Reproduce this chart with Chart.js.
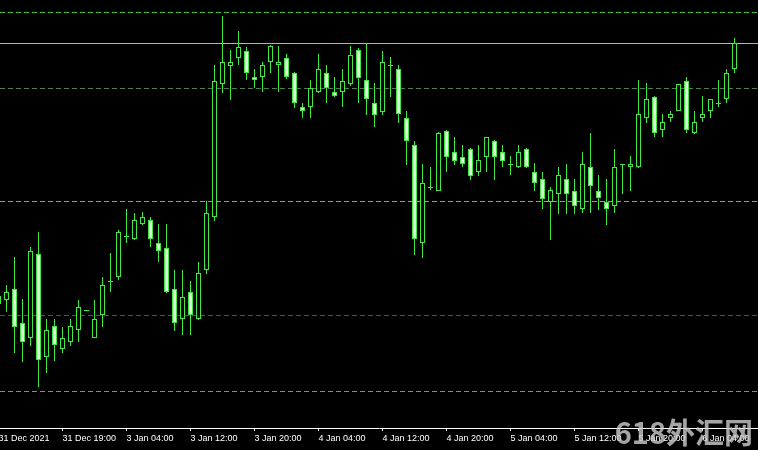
<!DOCTYPE html>
<html>
<head>
<meta charset="utf-8">
<script src="https://cdn.jsdelivr.net/npm/chart.js@4/dist/chart.umd.min.js"></script>
<style>
html,body{margin:0;padding:0;background:#000;overflow:hidden;}
canvas{display:block;}
</style>
</head>
<body>
<canvas id="c" width="758" height="450"></canvas>
<script>
// Hourly candles (price in points), bar index 0 = 31 Dec 2021
const opens  = [134,130,141,107,92,176,73,104,81,88,100,119,92,115,148,153,193,191,206,210,187,182,141,111,138,111,160,213,346,364,372,379,353,353,368,365,372,357,323,323,338,357,338,338,346,380,350,327,318,365,361,312,285,187,243,239,299,278,273,281,258,273,289,278,266,263,281,258,251,228,236,251,239,221,263,239,228,224,266,263,263,312,333,300,312,319,349,297,312,319,327,331,361];
const highs  = [142,145,173,131,183,198,111,111,103,111,130,120,130,153,177,200,221,217,218,213,206,206,160,160,149,168,229,365,414,380,399,383,361,368,385,384,376,358,327,350,376,365,353,361,384,382,387,347,379,373,365,319,289,266,263,298,300,293,285,282,285,293,290,285,274,285,282,267,258,243,263,266,251,278,297,255,251,281,266,274,350,347,334,316,319,346,353,319,334,331,350,361,392];
const lows   = [120,118,77,68,84,43,57,69,77,84,88,119,92,103,138,150,187,190,205,183,168,137,99,95,95,110,156,209,337,330,365,350,342,338,357,338,351,322,312,312,337,327,333,323,344,327,315,303,315,333,307,265,175,172,240,239,258,265,263,250,254,258,250,263,255,262,262,239,221,190,216,216,216,217,217,220,205,217,236,239,262,307,293,293,308,319,297,296,308,312,323,327,357];
const closes = [126,138,103,88,179,70,100,85,92,104,123,120,111,145,149,198,194,210,213,191,179,138,107,133,115,157,217,349,368,368,383,357,350,365,384,368,353,327,319,342,361,342,334,349,375,352,331,315,368,364,316,289,191,247,242,297,273,269,266,254,270,293,273,269,265,278,263,247,231,240,255,236,224,266,244,232,221,263,265,266,316,331,297,308,316,346,300,308,316,331,326,357,387];
// Time-axis labels, one every 8 bars
const tickIndex  = [0,8,16,24,32,40,48,56,64,72,80,88];
const tickLabels = ["31 Dec 2021","31 Dec 19:00","3 Jan 04:00","3 Jan 12:00","3 Jan 20:00","4 Jan 04:00","4 Jan 12:00","4 Jan 20:00","5 Jan 04:00","5 Jan 12:00","5 Jan 20:00","6 Jan 04:00"];
// Horizontal levels drawn on the chart
const levelValues = [418,387,342,229,115,39];
const levelColors = ['#3fbf3f','#b4b4b4','#4f7f4f','#9a9a9a','#b02a2a','#3fbf3f'];
const levelDashed = [true,false,true,true,true,true];

const GREEN = '#40e840';
const BEAR_FILL = '#d8f8d8';

const bodies = opens.map((o,i)=>({x:i, y:[o, closes[i]]}));
const wicks  = lows.map((l,i)=>({x:i, y:[l, highs[i]]}));

const levelsPlugin = {
  id:'levels',
  beforeDraw(chart){
    const c = chart.ctx;
    c.save(); c.fillStyle='#000'; c.fillRect(0,0,chart.width,chart.height); c.restore();
  },
  beforeDatasetsDraw(chart){
    const c = chart.ctx, y = chart.scales.y, a = chart.chartArea;
    c.save();
    levelValues.forEach((v,k)=>{
      const py = Math.round(y.getPixelForValue(v)) + 0.5;
      c.strokeStyle = levelColors[k];
      c.lineWidth = 1;
      c.setLineDash(levelDashed[k] ? [5,3] : []);
      c.beginPath(); c.moveTo(a.left, py); c.lineTo(a.right, py); c.stroke();
    });
    c.restore();
  },
  afterDraw(chart){
    const c = chart.ctx;
    c.save();
    c.font = "bold 29px 'Noto Sans CJK SC'";
    c.fillStyle = 'rgba(205,205,205,0.8)';
    c.textBaseline = 'alphabetic';
    c.textAlign = 'right';
    c.fillText('618外汇网', 753, 444);
    c.restore();
  }
};

new Chart(document.getElementById('c'), {
  type:'bar',
  data:{
    datasets:[
      {
        label:'body', data:bodies, grouped:false, barThickness:5, inflateAmount:0,
        borderWidth:1, borderSkipped:false, borderColor:GREEN,
        backgroundColor:(ctx)=>{ const i=ctx.dataIndex; return closes[i] >= opens[i] ? '#000' : BEAR_FILL; }
      },
      {
        label:'wick', data:wicks, grouped:false, barThickness:1, inflateAmount:0,
        borderWidth:0, backgroundColor:GREEN
      }
    ]
  },
  options:{
    responsive:false, animation:false, devicePixelRatio:1,
    layout:{padding:0},
    plugins:{legend:{display:false}, tooltip:{enabled:false}},
    scales:{
      x:{
        type:'linear', position:'bottom', offset:false, min:0.1875, max:0.1875+758/8,
        afterBuildTicks:(s)=>{ s.ticks = tickIndex.map(v=>({value:v})); },
        afterFit:(s)=>{ s.height = 22; s.paddingLeft = 0; s.paddingRight = 0; },
        grid:{drawOnChartArea:false, drawTicks:true, tickLength:3, color:'#ffffff', lineWidth:1, offset:false},
        border:{display:true, color:'#ffffff', width:1},
        ticks:{
          autoSkip:false, maxRotation:0, minRotation:0, align:'start', padding:2,
          color:'#ffffff', font:{family:'Liberation Sans', size:9},
          callback:(v,idx)=>tickLabels[idx]
        }
      },
      y:{ type:'linear', display:false, min:2, max:430 }
    }
  },
  plugins:[levelsPlugin]
});
</script>
</body>
</html>
